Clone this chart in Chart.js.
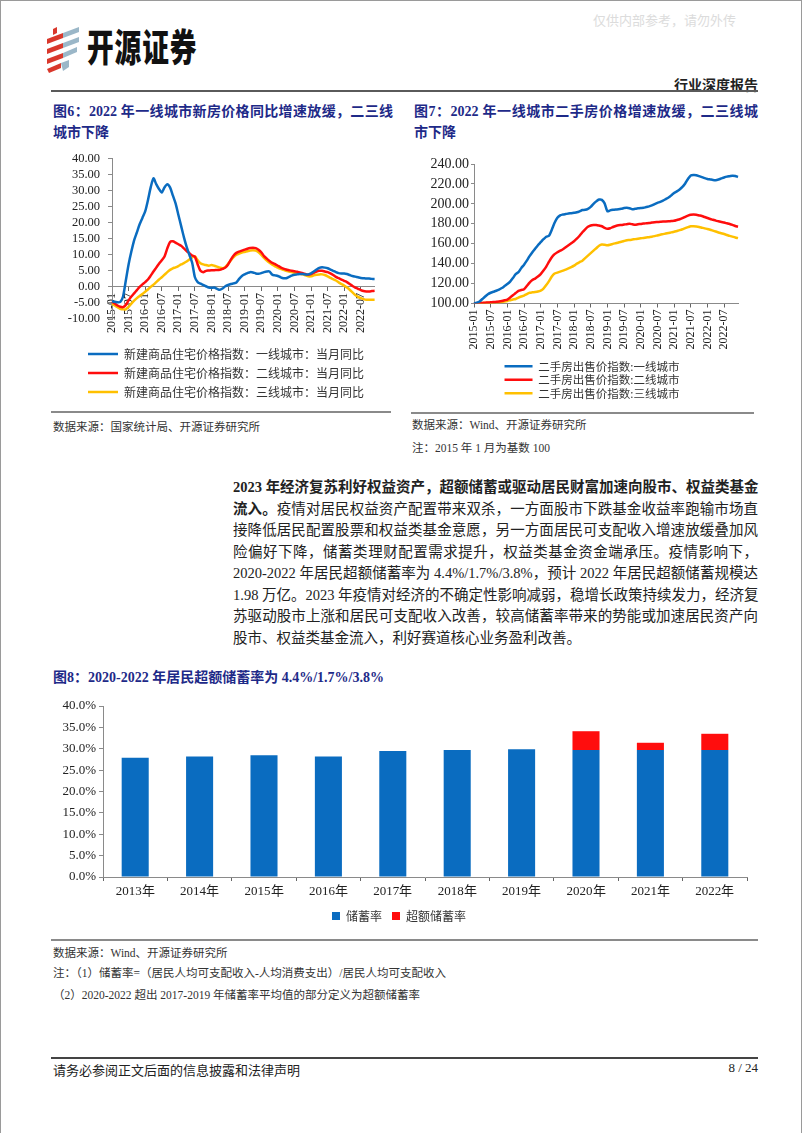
<!DOCTYPE html>
<html lang="zh-CN">
<head>
<meta charset="UTF-8">
<title>行业深度报告</title>
<script src="https://cdn.jsdelivr.net/npm/chart.js@4.4.1/dist/chart.umd.min.js"></script>
<style>
  body { margin: 0; background: #fff; }
  .page { position: relative; width: 802px; height: 1133px; box-sizing: border-box; border: 1px solid #9a9a9a; border-bottom: none;
          font-family: "Liberation Serif", "Noto Sans CJK SC", serif; color: #222; overflow: hidden; }
  .abs { position: absolute; white-space: nowrap; }
  .mark { left: 592px; top: 9px; font-size: 13px; color: #dcdcdc; font-family: "Noto Sans CJK SC"; }
  .brand { left: 86px; top: 16px; font-size: 29px; font-weight: 900; font-family: "Noto Sans CJK SC"; color: #111;
           transform: scale(0.92, 1.3); transform-origin: left top; letter-spacing: 1px; }
  .kind { left: 600px; width: 157px; top: 73px; text-align: right; font-size: 14px; font-weight: bold; font-family: "Noto Sans CJK SC"; }
  .rule { position: absolute; height: 2px; background: #5a5a5a; }
  .thin { position: absolute; height: 1px; background: #8a8a8a; }
  .ftitle { position: absolute; font-size: 14px; font-weight: bold; color: #1e2a88; line-height: 21px; font-family: "Liberation Serif", "Noto Sans CJK SC"; }
  .ftitle .full { text-align: justify; text-align-last: justify; }
  .note { font-size: 11.5px; color: #333; font-family: "Liberation Serif", "Noto Sans CJK SC"; }
  .para { position: absolute; left: 232px; top: 476px; width: 525px; font-size: 14.5px; line-height: 21.5px; color: #222;
          font-family: "Liberation Serif", "Noto Sans CJK SC"; }
  .para div { text-align: justify; text-align-last: justify; white-space: nowrap; }
  .para div.last { text-align-last: left; }
  .box { position: absolute; }
</style>
</head>
<body>
<div class="page">
  <div class="abs mark">仅供内部参考，请勿外传</div>
  <svg class="box" style="left:44px;top:26px" width="36" height="46" viewBox="0 0 36 46">
    <g fill="#d9382c">
      <polygon points="8,2 12,0 12,6 8,8"/>
      <polygon points="2,12 18,6 18,11 2,17"/>
      <polygon points="2,22 18,16 18,21 2,27"/>
      <polygon points="2,32 18,26 18,31 2,37"/>
      <polygon points="2,42 16,36 16,41 4,46"/>
    </g>
    <g fill="#9bb7c8">
      <polygon points="18,6 34,0 34,5 18,11"/>
      <polygon points="18,16 34,10 34,15 18,21"/>
      <polygon points="18,26 32,20 32,25 18,31"/>
      <polygon points="16,36 24,33 24,40 18,44"/>
    </g>
  </svg>
  <div class="abs brand">开源证券</div>
  <div class="abs kind">行业深度报告</div>
  <div class="rule" style="left:50px;top:89px;width:707px"></div>

  <div class="ftitle" style="left:52px;top:100px;width:340px">
    <div class="full">图6：2022 年一线城市新房价格同比增速放缓，二三线</div>
    <div>城市下降</div>
  </div>
  <div class="ftitle" style="left:413px;top:100px;width:344px">
    <div class="full">图7：2022 年一线城市二手房价格增速放缓，二三线城</div>
    <div>市下降</div>
  </div>

  <div class="box" style="left:50px;top:142px;width:340px;height:265px"><canvas id="newChart"></canvas></div>
  <div class="box" style="left:405px;top:150px;width:352px;height:258px"><canvas id="usedChart"></canvas></div>

  <div class="thin" style="left:50px;top:410px;width:340px;height:1.5px"></div>
  <div class="thin" style="left:410px;top:411px;width:343px;height:1.5px"></div>
  <div class="abs note" style="left:52px;top:417px">数据来源：国家统计局、开源证券研究所</div>
  <div class="abs note" style="left:411px;top:415px">数据来源：Wind、开源证券研究所</div>
  <div class="abs note" style="left:411px;top:438px">注：2015 年 1 月为基数 100</div>

  <div class="para">
    <div><b>2023 年经济复苏利好权益资产，超额储蓄或驱动居民财富加速向股市、权益类基金</b></div>
    <div><b>流入。</b>疫情对居民权益资产配置带来双杀，一方面股市下跌基金收益率跑输市场直</div>
    <div>接降低居民配置股票和权益类基金意愿，另一方面居民可支配收入增速放缓叠加风</div>
    <div>险偏好下降，储蓄类理财配置需求提升，权益类基金资金端承压。疫情影响下，</div>
    <div>2020-2022 年居民超额储蓄率为 4.4%/1.7%/3.8%，预计 2022 年居民超额储蓄规模达</div>
    <div>1.98 万亿。2023 年疫情对经济的不确定性影响减弱，稳增长政策持续发力，经济复</div>
    <div>苏驱动股市上涨和居民可支配收入改善，较高储蓄率带来的势能或加速居民资产向</div>
    <div class="last">股市、权益类基金流入，利好赛道核心业务盈利改善。</div>
  </div>

  <div class="ftitle" style="left:52px;top:666px;width:705px">图8：2020-2022 年居民超额储蓄率为 4.4%/1.7%/3.8%</div>

  <div class="box" style="left:50px;top:690px;width:707px;height:241px"><canvas id="saveChart"></canvas></div>

  <div class="thin" style="left:50px;top:938px;width:707px;height:1.5px"></div>
  <div class="abs note" style="left:52px;top:943px">数据来源：Wind、开源证券研究所</div>
  <div class="abs note" style="left:52px;top:963px">注：（1）储蓄率=（居民人均可支配收入-人均消费支出）/居民人均可支配收入</div>
  <div class="abs note" style="left:52px;top:985px">（2）2020-2022 超出 2017-2019 年储蓄率平均值的部分定义为超额储蓄率</div>

  <div class="thin" style="left:50px;top:1056px;width:707px;height:1.5px;background:#444"></div>
  <div class="abs" style="left:52px;top:1059px;font-size:13px">请务必参阅正文后面的信息披露和法律声明</div>
  <div class="abs" style="left:657px;width:100px;top:1059px;font-size:13px;text-align:right">8 / 24</div>
</div>

<script>
  // months 2015-01 .. 2022-12
  const months = [];
  for (let y = 2015; y <= 2022; y++) {
    for (let m = 1; m <= 12; m++) months.push(y + '-' + String(m).padStart(2, '0'));
  }

  // 新建商品住宅价格指数 当月同比 (%)
  const newTier1 = [
    -4.5, -4.6, -4.8, -4.7, -3.0, 2.0, 7.0, 11.0, 14.5, 17.0, 19.5, 21.5,
    23.5, 27.0, 31.0, 33.8, 32.0, 30.5, 29.4, 31.0, 32.0, 31.0, 28.5, 26.0,
    22.5, 19.0, 15.5, 12.5, 10.0, 7.5, 3.0, 1.5, 1.0, 0.6, 0.2, -0.2,
    -0.3, -0.2, -0.6, -0.9, -0.5, 0.2, 0.6, 0.9, 1.1, 1.4, 2.5, 3.4,
    3.9, 4.3, 4.6, 4.5, 4.2, 4.1, 4.3, 4.6, 4.8, 4.8, 3.8, 3.6,
    3.4, 3.0, 2.7, 2.7, 3.1, 3.5, 3.8, 3.9, 4.0, 4.0, 3.9, 3.9,
    4.2, 4.8, 5.4, 5.9, 6.1, 6.0, 5.8, 5.4, 5.0, 4.6, 4.3, 4.2,
    4.2, 4.0, 3.7, 3.4, 3.2, 3.0, 2.8, 2.7, 2.6, 2.6, 2.5, 2.5
  ];
  const newTier2 = [
    -4.5, -5.2, -5.8, -6.2, -6.3, -5.6, -4.2, -3.0, -2.0, -1.0, 0.0, 0.8,
    1.5, 2.3, 3.5, 4.8, 6.0, 7.2, 8.3, 9.5, 12.0, 14.0, 14.2, 13.8,
    13.3, 12.8, 12.0, 11.2, 10.5, 9.8, 9.4, 7.0, 5.0, 4.6, 5.0, 5.1,
    5.2, 5.2, 5.3, 5.3, 5.6, 6.0, 7.0, 8.5, 9.8, 10.6, 11.0, 11.3,
    11.6, 11.9, 12.1, 12.2, 12.1, 11.6, 10.8, 9.6, 8.8, 8.1, 7.5, 7.1,
    6.6, 6.1, 5.7, 5.4, 5.2, 5.0, 4.9, 4.7, 4.5, 4.3, 4.0, 3.8,
    4.0, 4.4, 4.8, 5.0, 5.0, 4.8, 4.6, 4.2, 3.7, 3.1, 2.7, 2.3,
    1.9, 1.5, 0.9, 0.3, -0.2, -0.6, -1.0, -1.3, -1.4, -1.4, -1.3, -1.2
  ];
  const newTier3 = [
    -5.3, -5.8, -6.3, -6.8, -7.0, -7.0, -6.2, -5.2, -4.3, -3.5, -2.8, -2.2,
    -1.5, -0.8, 0.0, 0.7, 1.5, 2.3, 3.0, 3.8, 4.6, 5.3, 5.8, 6.1,
    6.5, 7.0, 7.4, 7.9, 8.5, 9.2, 9.5, 8.3, 7.4, 7.0, 6.8, 6.6,
    6.8, 6.6, 6.3, 6.0, 5.8, 6.2, 7.2, 8.3, 9.3, 10.0, 10.4, 10.7,
    10.9, 11.1, 11.3, 11.4, 11.3, 10.8, 10.0, 9.0, 8.2, 7.5, 6.9, 6.4,
    6.0, 5.6, 5.3, 5.0, 4.8, 4.6, 4.4, 4.3, 4.1, 3.9, 3.6, 3.3,
    3.3, 3.6, 3.8, 3.9, 3.9, 3.7, 3.3, 2.8, 2.4, 2.0, 1.4, 0.9,
    0.4, -0.2, -0.9, -1.7, -2.5, -3.1, -3.5, -3.8, -4.0, -4.0, -4.0, -4.0
  ];

  // 二手房出售价指数 (2015-01 = 100)
  const usedTier1 = [
    100.0, 100.8, 102.0, 104.5, 107.0, 109.3, 110.8, 111.8, 112.8, 114.0, 115.5, 117.5,
    119.5, 122.0, 125.5, 129.5, 131.5, 135.5, 139.0, 143.0, 147.5, 151.5, 155.0, 158.5,
    161.5, 164.5, 167.0, 168.0, 174.0, 181.0, 186.0, 188.5, 189.3, 189.8, 190.3, 190.6,
    191.0, 191.5, 192.5, 193.8, 194.0, 195.0, 197.0, 200.0, 202.5, 204.3, 204.0, 200.5,
    192.5, 193.5, 194.0, 194.3, 194.5, 195.0, 195.8, 196.2, 195.6, 194.5, 195.0, 195.5,
    195.8, 196.0, 196.8, 197.5, 198.5, 199.8, 201.0, 202.0, 203.3, 204.8, 206.3, 208.5,
    211.0, 212.5, 214.5, 217.0, 220.5, 225.0, 228.5, 229.0, 228.8, 227.8, 226.8, 225.8,
    225.0, 224.5, 224.0, 223.8, 224.5, 225.5, 226.5, 227.3, 227.8, 228.3, 228.0, 227.0
  ];
  const usedTier2 = [
    100.0, 100.2, 100.4, 100.6, 100.8, 101.0, 101.2, 101.4, 101.7, 102.0, 102.5, 103.2,
    104.0, 106.0, 108.2, 110.5, 112.6, 113.5, 114.3, 117.5, 121.0, 123.5, 125.0, 127.0,
    129.5, 133.0, 137.0, 142.0, 146.5, 149.5, 151.5, 153.0, 154.5, 156.5, 158.5, 160.5,
    162.5, 165.0, 168.0, 171.5, 174.5, 177.0, 178.3, 178.8, 178.8, 178.2, 177.5, 176.0,
    175.0, 175.5, 176.8, 177.8, 178.5, 178.8, 179.2, 179.6, 180.0, 179.5, 179.0, 179.5,
    179.8, 180.2, 180.5, 180.8, 181.2, 181.6, 181.8, 182.0, 182.2, 182.3, 182.5, 182.8,
    183.0, 183.8, 184.6, 185.6, 187.0, 188.2, 189.0, 189.2, 189.0, 188.4, 187.8, 186.8,
    185.8, 184.8, 184.0, 183.2, 182.5, 181.8, 181.2, 180.5, 179.8, 178.9, 177.8, 177.0
  ];
  const usedTier3 = [
    100.0, 100.3, 100.5, 100.6, 100.6, 100.7, 100.8, 100.9, 101.0, 101.2, 101.5, 102.0,
    102.6, 103.3, 104.0, 104.5, 106.0, 107.0, 108.0, 109.5, 110.8, 111.2, 111.5, 112.0,
    113.0, 115.0, 118.5, 122.5, 127.0, 130.0, 131.0, 132.0, 133.0, 134.0, 135.2, 136.5,
    138.0, 140.0, 141.5, 143.0, 145.5, 148.0, 150.5, 153.0, 155.5, 158.0, 159.2, 159.0,
    158.5, 159.0, 159.8, 160.5, 161.2, 162.0, 162.8, 163.5, 163.8, 164.2, 164.6, 165.0,
    165.4, 165.8, 166.2, 166.6, 167.0, 167.6, 168.3, 169.0, 169.6, 170.2, 170.8, 171.4,
    172.0, 172.8, 173.6, 174.5, 175.6, 176.6, 177.5, 177.6, 177.3, 176.8, 176.1, 175.4,
    174.8, 174.0, 173.1, 172.2, 171.3, 170.5, 169.7, 168.8, 167.9, 167.1, 166.3, 165.6
  ];

  // 储蓄率 / 超额储蓄率 (%)
  const years = ['2013年', '2014年', '2015年', '2016年', '2017年', '2018年', '2019年', '2020年', '2021年', '2022年'];
  const savingRate = [27.9, 28.2, 28.5, 28.2, 29.5, 29.7, 29.9, 29.7, 29.7, 29.7];
  const excessRate = [0, 0, 0, 0, 0, 0, 0, 4.4, 1.7, 3.8];

  const BLUE = '#0a6cc0', RED = '#ff0d0d', YELLOW = '#ffc000';
  const serif = "'Liberation Serif', 'Times New Roman', serif";
  const cjk = "'Noto Sans CJK SC', sans-serif";

  function lineSet(label, data, color) {
    return { label: label, data: data, borderColor: color, backgroundColor: color, borderWidth: 2.5,
             pointRadius: 0, tension: 0.25 };
  }

  function monthAxis(opts) {
    return Object.assign({
      grid: { drawOnChartArea: false, tickLength: 4, tickColor: ctx => ctx.index % 6 === 0 ? '#666' : 'rgba(0,0,0,0)' },
      border: { color: '#8a8a8a', width: 1 },
      ticks: { autoSkip: false, minRotation: 90, maxRotation: 90, padding: 2, color: '#222',
               font: { family: serif, size: 12 },
               callback: (v, i) => i % 6 === 0 ? months[i] : '' }
    }, opts);
  }

  // moves the legend sideways after layout, so it sits where the report has it
  const nudgeLegend = dx => ({
    id: 'nudgeLegend',
    afterLayout(chart) { chart.legend.left += dx; chart.legend.right += dx; }
  });

  Chart.defaults.animation = false;

  new Chart(document.getElementById('newChart'), {
    type: 'line',
    data: {
      labels: months,
      datasets: [
        lineSet('新建商品住宅价格指数：一线城市：当月同比', newTier1, BLUE),
        lineSet('新建商品住宅价格指数：二线城市：当月同比', newTier2, RED),
        lineSet('新建商品住宅价格指数：三线城市：当月同比', newTier3, YELLOW)
      ]
    },
    options: {
      responsive: true, maintainAspectRatio: false,
      layout: { padding: { top: 1, right: 14, left: 0, bottom: 0 } },
      plugins: {
        tooltip: { enabled: false },
        legend: { position: 'bottom',
          labels: { usePointStyle: true, pointStyle: 'line', pointStyleWidth: 30, padding: 7, color: '#333',
                    font: { family: cjk, size: 12 } } }
      },
      scales: {
        x: monthAxis({ position: { y: 0 } }),
        // empty band under the plot, keeps room between the -10 line and the legend
        gap: { type: 'category', axis: 'x', position: 'bottom', display: true,
               grid: { display: false }, border: { display: false }, ticks: { display: false },
               afterFit: s => { s.height = 22; } },
        y: { min: -10, max: 40,
             grid: { drawOnChartArea: false, tickLength: 4, tickColor: '#8a8a8a' },
             border: { color: '#8a8a8a', width: 1 },
             ticks: { stepSize: 5, autoSkip: false, padding: 8, color: '#222', font: { family: serif, size: 12.5 }, callback: v => v.toFixed(2) },
             afterFit: s => { s.width = 61; } }
      }
    },
    plugins: [nudgeLegend(12)]
  });

  new Chart(document.getElementById('usedChart'), {
    type: 'line',
    data: {
      labels: months,
      datasets: [
        lineSet('二手房出售价指数:一线城市', usedTier1, BLUE),
        lineSet('二手房出售价指数:二线城市', usedTier2, RED),
        lineSet('二手房出售价指数:三线城市', usedTier3, YELLOW)
      ]
    },
    options: {
      responsive: true, maintainAspectRatio: false,
      layout: { padding: { top: 13, right: 20, left: 0, bottom: 0 } },
      plugins: {
        tooltip: { enabled: false },
        legend: { position: 'bottom',
          labels: { usePointStyle: true, pointStyle: 'line', pointStyleWidth: 28, padding: 2, color: '#333',
                    font: { family: cjk, size: 11.5 } } }
      },
      scales: {
        x: monthAxis({ afterFit: s => { s.height = 55; } }),
        y: { min: 100, max: 240,
             grid: { drawOnChartArea: false, tickLength: 3, tickColor: '#8a8a8a' },
             border: { color: '#8a8a8a', width: 1 },
             ticks: { stepSize: 20, autoSkip: false, padding: 2, color: '#222', font: { family: serif, size: 14 }, callback: v => v.toFixed(2) },
             afterFit: s => { s.width = 68; } }
      }
    },
    plugins: [nudgeLegend(20)]
  });

  new Chart(document.getElementById('saveChart'), {
    type: 'bar',
    data: {
      labels: years,
      datasets: [
        { label: '储蓄率', data: savingRate, backgroundColor: BLUE, categoryPercentage: 1, barPercentage: 0.42 },
        { label: '超额储蓄率', data: excessRate, backgroundColor: RED, categoryPercentage: 1, barPercentage: 0.42 }
      ]
    },
    options: {
      responsive: true, maintainAspectRatio: false,
      layout: { padding: { top: 15, right: 11, left: 0, bottom: 0 } },
      plugins: {
        tooltip: { enabled: false },
        legend: { position: 'bottom',
          labels: { boxWidth: 8, boxHeight: 8, padding: 10, color: '#333', font: { family: cjk, size: 12 } } }
      },
      scales: {
        x: { stacked: true,
             grid: { drawOnChartArea: false, tickLength: 4, tickColor: '#666' },
             border: { color: '#8a8a8a', width: 1 },
             ticks: { padding: 3, color: '#222', font: { family: serif, size: 13 } },
             afterFit: s => { s.height = 23; } },
        y: { stacked: true, min: 0, max: 40,
             grid: { drawOnChartArea: false, tickLength: 4, tickColor: '#8a8a8a' },
             border: { color: '#8a8a8a', width: 1 },
             ticks: { stepSize: 5, padding: 3, color: '#222', font: { family: serif, size: 13 }, callback: v => v.toFixed(1) + '%' },
             afterFit: s => { s.width = 52; } }
      }
    }
  });
</script>
</body>
</html>
